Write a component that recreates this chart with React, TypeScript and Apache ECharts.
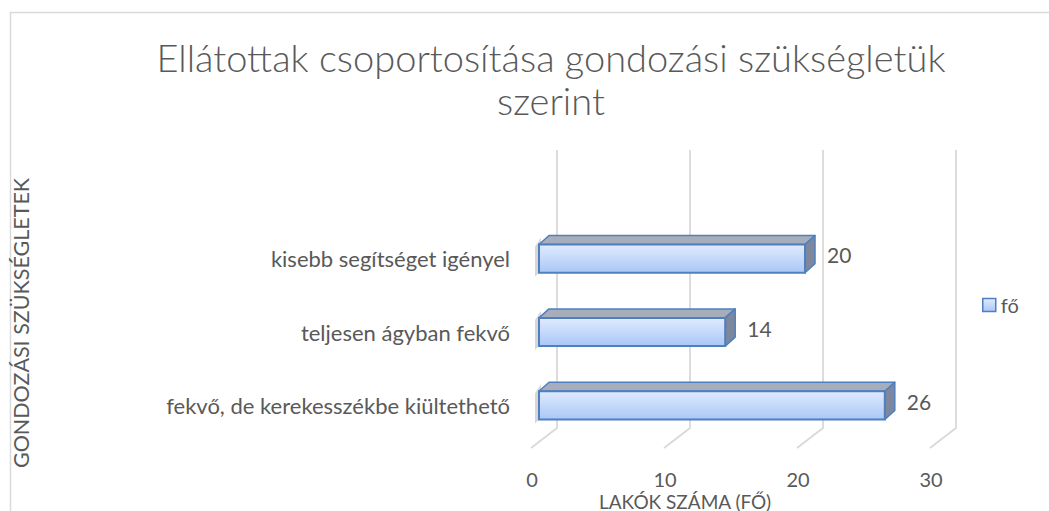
import React, { useEffect, useRef } from "react";
import * as echarts from "echarts";

const categories = [
  "kisebb segítséget igényel",
  "teljesen ágyban fekvő",
  "fekvő, de kerekesszékbe kiültethető",
];
const values = [20, 14, 26];
const xTicks = [0, 10, 20, 30];
const seriesName = "fő";
const titleText = "Ellátottak csoportosítása gondozási szükségletük\nszerint";
const xAxisTitle = "LAKÓK SZÁMA (FŐ)";
const yAxisTitle = "GONDOZÁSI SZÜKSÉGLETEK";

const FONT = "Lato";
const TXT = "#595959";

export default function App() {
  const ref = useRef<HTMLDivElement>(null);
  useEffect(() => {
    document.body.style.margin = "0";
    const chart = echarts.init(ref.current!, null, { renderer: "svg" });
    const frontGrad = new echarts.graphic.LinearGradient(0, 0, 0, 1, [
      { offset: 0, color: "#e0ebfd" },
      { offset: 1, color: "#a9c7f7" },
    ]);
    const dx = 10;
    const dy = 9;
    chart.setOption({
      animation: false,
      title: {
        text: titleText,
        left: 551,
        top: 35,
        padding: 0,
        textAlign: "center",
        textStyle: {
          fontFamily: FONT,
          fontWeight: 300,
          fontSize: 38,
          lineHeight: 43,
          color: TXT,
        },
      },
      legend: {
        left: 977,
        top: 290,
        itemWidth: 13,
        itemHeight: 13,
        textStyle: { fontFamily: FONT, fontSize: 20, color: TXT },
        data: [
          {
            name: seriesName,
            icon: "rect",
            itemStyle: {
              color: frontGrad,
              borderColor: "#4f7fc0",
              borderWidth: 1.5,
            },
          },
        ],
      },
      grid: { left: 539, right: 111, top: 222, bottom: 69 },
      xAxis: {
        type: "value",
        min: 0,
        max: 30,
        interval: 10,
        splitLine: { show: false },
        axisLine: { show: false },
        axisTick: { show: false },
        axisLabel: {
          fontFamily: FONT,
          fontSize: 20,
          lineHeight: 20,
          color: TXT,
          margin: 27,
          padding: [0, 14, 0, 0],
        },
      },
      yAxis: {
        type: "category",
        data: categories,
        inverse: true,
        axisLine: { show: false },
        axisTick: { show: false },
        axisLabel: {
          fontFamily: FONT,
          fontSize: 22,
          color: TXT,
          margin: 29,
          padding: [16, 0, 0, 0],
        },
      },
      graphic: [
        {
          type: "rect",
          shape: { x: 10.5, y: 12.5, width: 1100, height: 600 },
          style: { fill: "none", stroke: "#d9d9d9", lineWidth: 1.5 },
          silent: true,
        },
        {
          type: "text",
          x: 685,
          y: 501,
          style: {
            text: xAxisTitle,
            fontFamily: FONT,
            fontSize: 19,
            lineHeight: 19,
            fill: TXT,
            align: "center",
            verticalAlign: "middle",
          },
        },
        {
          type: "text",
          x: 21,
          y: 323,
          rotation: Math.PI / 2,
          style: {
            text: yAxisTitle,
            fontFamily: FONT,
            fontSize: 21.5,
            fill: TXT,
            align: "center",
            verticalAlign: "middle",
          },
        },
      ],
      series: [
        {
          type: "custom",
          name: "grid",
          silent: true,
          data: xTicks.map((v) => [v]),
          encode: { x: 0 },
          renderItem: (params: any, api: any) => {
            const cs = params.coordSys;
            const x = api.coord([api.value(0), 0])[0];
            const bottomBack = cs.y + cs.height - 14;
            return {
              type: "polyline",
              shape: {
                points: [
                  [x + 18, cs.y - 72],
                  [x + 18, bottomBack],
                  [x - 8, bottomBack + 20],
                ],
              },
              style: { stroke: "#d9d9d9", lineWidth: 1.8, fill: "none" },
            };
          },
        },
        {
          type: "custom",
          name: seriesName,
          data: values.map((v, i) => [v, i]),
          encode: { x: 0, y: 1 },
          renderItem: (params: any, api: any) => {
            const v = api.value(0);
            const i = api.value(1);
            const s = api.coord([0, i]);
            const e = api.coord([v, i]);
            const h = api.size([0, 1])[1] * 0.385;
            const x0 = s[0];
            const x1 = e[0];
            const top = s[1] - h / 2;
            const bot = s[1] + h / 2;
            return {
              type: "group",
              children: [
                {
                  type: "polygon",
                  shape: {
                    points: [
                      [x0 - 4, top + 2],
                      [x0 + 2, top - dy + 2],
                      [x0 + 2, bot - 2],
                      [x0 - 4, bot + 4],
                    ],
                  },
                  style: { fill: "rgba(120,120,120,0.3)" },
                },
                {
                  type: "polygon",
                  shape: {
                    points: [
                      [x0, top],
                      [x0 + dx, top - dy],
                      [x1 + dx, top - dy],
                      [x1, top],
                    ],
                  },
                  style: {
                    fill: "#a7aebb",
                    stroke: "#4f7fc0",
                    lineWidth: 1.5,
                    lineJoin: "round",
                  },
                },
                {
                  type: "polygon",
                  shape: {
                    points: [
                      [x1, top],
                      [x1 + dx, top - dy],
                      [x1 + dx, bot - dy],
                      [x1, bot],
                    ],
                  },
                  style: {
                    fill: "#7d889d",
                    stroke: "#4f7fc0",
                    lineWidth: 1.5,
                    lineJoin: "round",
                  },
                },
                {
                  type: "rect",
                  shape: { x: x0, y: top, width: x1 - x0, height: h },
                  style: { fill: frontGrad, stroke: "#4f7fc0", lineWidth: 2 },
                },
                {
                  type: "text",
                  x: x1 + 22,
                  y: s[1] - 4,
                  style: {
                    text: String(v),
                    fontFamily: FONT,
                    fontSize: 21,
                    fill: TXT,
                    align: "left",
                    verticalAlign: "middle",
                  },
                },
              ],
            };
          },
        },
      ],
    });
    return () => chart.dispose();
  }, []);
  return <div ref={ref} style={{ width: 1049, height: 511 }} />;
}
